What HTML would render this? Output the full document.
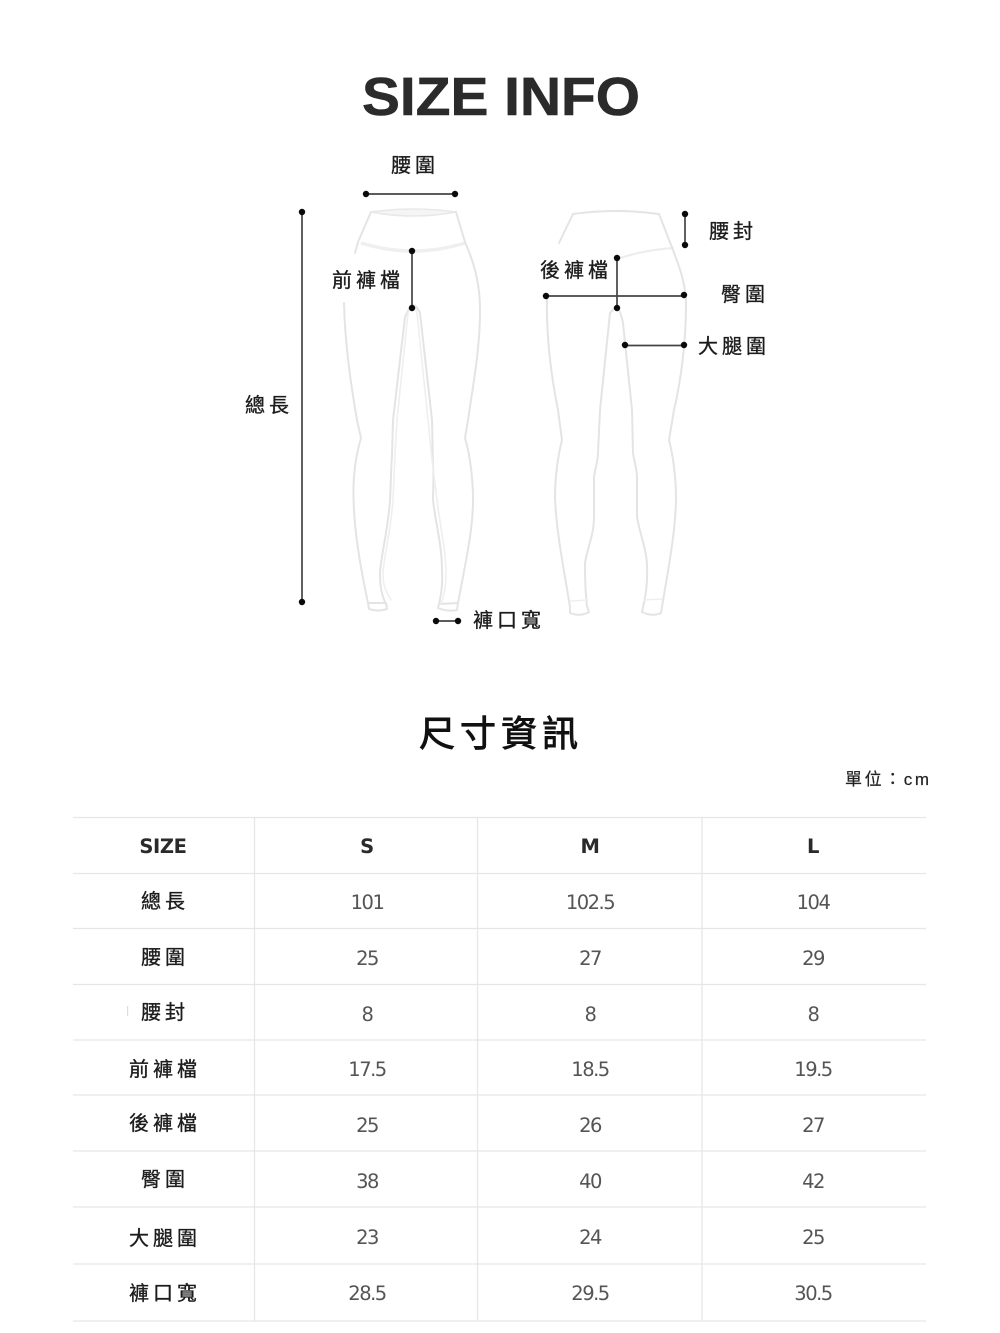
<!DOCTYPE html>
<html><head><meta charset="utf-8"><style>
html,body{margin:0;padding:0;background:#fff}
svg{display:block}
.c{font-family:"Liberation Sans","Noto Sans CJK TC",sans-serif;fill:#1c1c1c;stroke:#1c1c1c;stroke-width:.35;font-size:20px;letter-spacing:4px}
.n{font-family:"DejaVu Sans","Liberation Sans",sans-serif;fill:#555;font-size:19.5px;text-anchor:middle;letter-spacing:-1.5px}
.h{font-family:"DejaVu Sans","Liberation Sans",sans-serif;fill:#2a2a2a;font-size:19.5px;font-weight:bold;text-anchor:middle;letter-spacing:-.4px}
.o{fill:none;stroke:#e4e4e4;stroke-width:2;stroke-linecap:round;stroke-linejoin:round}
.f{fill:none;stroke:#efefef;stroke-width:1.6;stroke-linecap:round}
.l{stroke:#444;stroke-width:1.7;fill:none}
.g{stroke:#e6e6e6;stroke-width:1.3}
</style></head><body>
<svg width="1000" height="1333" viewBox="0 0 1000 1333" xmlns="http://www.w3.org/2000/svg">
<text x="362" y="115" font-family="Liberation Sans,sans-serif" font-weight="bold" font-size="54" fill="#2b2b2b" stroke="#2b2b2b" stroke-width=".6" textLength="278" lengthAdjust="spacingAndGlyphs">SIZE INFO</text>

<!-- front leggings -->
<path d="M371 212Q413 206 456 212Q414 220 371 212Z" fill="#f5f5f5" stroke="#e8e8e8" stroke-width="1.6"/>
<path d="M361 243Q413 259 465 243" fill="none" stroke="#efefef" stroke-width="3.5"/>
<g class="o">
<path d="M371 212L358 242L355 253"/>
<path d="M456 212L465 242C475 265 480 285 480 310C480 350 473 385 468 420L465 438C470 455 473 478 473 500C473 530 466 560 458 603"/>
<path d="M344 303C345 345 351 385 357 420L361 438C356 455 353 475 353.500 497C354 530 360 565 368 603"/>
<path d="M368 603L369 609Q378 612 387 609L386 603L368 603"/>
<path d="M438 608Q448 612 457 610L458 603L440 604"/>
<path d="M387 606C381 595 380 585 380 572C382 550 388 530 390 500C391 480 391 470 392 455L393 420L405 317Q410 306 413 305Q417 306 420 313L432 420L433 465C434 480 433 490 433 500C435 520 442 545 442 570C443 585 441 597 438 608"/>
</g>
<g class="f">
<path d="M391 600C385 590 383 585 383 572C385 550 391 530 393 500L395 455L397 420L408 313Q412 305 413 305Q415 306 417 313L428 420L432 460L437 500C440 525 446 550 446 575Q446 590 441 604"/>
</g>

<!-- back leggings -->
<g class="o">
<path d="M573 214Q616 208 659 214"/>
<path d="M573 214L559 243"/>
<path d="M620 258Q645 250 673 248" stroke="#ececec"/>
<path d="M659 214L673 250C680 268 686 285 686 305C686 345 680 385 674 410L669 440C673 455 676 478 676 497C676 530 668 570 662 607L661 613"/>
<path d="M547 297C546 340 552 380 558 410L562 440C558 455 555 478 555 497C556 530 564 570 570 607L570 613Q580 617 589 612L587 606"/>
<path d="M642 612Q652 617 661 613"/>
<path d="M587 606C585 590 585 575 585 563C588 545 594 535 594 517L594 477C596 465 598 460 598 453L600 410L610 313Q614 308 617 308Q620 309 623 323L632 410L633 453C635 465 637 470 637 477L637 517C640 535 647 550 647 567C648 585 645 600 642 612"/>
</g>
<path d="M571 601L588 600M644 600L662 599" class="f"/>

<!-- dimension lines -->
<g class="l">
<path d="M366 194H455"/><path d="M302 212V602"/><path d="M412 251V308"/>
<path d="M685 214V245"/><path d="M617 258V308"/><path d="M546 296H684"/>
<path d="M625 345.500H684"/><path d="M436 621H458"/>
</g>
<g fill="#0a0a0a">
<circle cx="366" cy="194" r="3.200"/><circle cx="455" cy="194" r="3.200"/>
<circle cx="302" cy="212" r="3.200"/><circle cx="302" cy="602" r="3.200"/>
<circle cx="412" cy="251" r="3.200"/><circle cx="412" cy="308" r="3.200"/>
<circle cx="685" cy="214" r="3.200"/><circle cx="685" cy="245" r="3.200"/>
<circle cx="617" cy="258" r="3.200"/><circle cx="617" cy="308" r="3.200"/>
<circle cx="546" cy="296" r="3.200"/><circle cx="684" cy="295" r="3.200"/>
<circle cx="625" cy="345" r="3.200"/><circle cx="684" cy="345" r="3.200"/>
<circle cx="436" cy="621" r="3.200"/><circle cx="458" cy="621" r="3.200"/>
</g>

<g class="c">
<text x="391" y="172">腰圍</text>
<text x="332" y="287">前褲檔</text>
<text x="245" y="412">總長</text>
<text x="540" y="277">後褲檔</text>
<text x="709" y="238">腰封</text>
<text x="721" y="301">臀圍</text>
<text x="698" y="353">大腿圍</text>
<text x="473" y="627">褲口寬</text>
</g>

<text x="419" y="746" font-family="Liberation Sans,Noto Sans CJK TC,sans-serif" font-size="36" fill="#111" stroke="#111" stroke-width=".9" letter-spacing="5">尺寸資訊</text>
<text x="845" y="785" font-family="Liberation Sans,Noto Sans CJK TC,sans-serif" font-size="17" fill="#222" stroke="#222" stroke-width=".2" letter-spacing="2.600">單位：cm</text>

<!-- table grid -->
<g class="g">
<path d="M73 817.5H926M73 873.5H926M73 928.5H926M73 984.5H926M73 1040H926M73 1095H926M73 1151H926M73 1207H926M73 1264H926M73 1321H926"/>
<path d="M254.5 817V1321M477.5 817V1321M702 817V1321"/>
</g>
<rect x="127" y="1006" width="1.2" height="10" fill="#ddd"/>

<text class="h" x="163" y="853">SIZE</text>
<text class="h" x="367" y="853">S</text><text class="h" x="590" y="853">M</text><text class="h" x="813" y="853">L</text>

<g class="c" text-anchor="middle">
<text x="165" y="908">總長</text>
<text x="165" y="964">腰圍</text>
<text x="165" y="1019">腰封</text>
<text x="165" y="1076">前褲檔</text>
<text x="165" y="1130">後褲檔</text>
<text x="165" y="1186">臀圍</text>
<text x="165" y="1245">大腿圍</text>
<text x="165" y="1300">褲口寬</text>
</g>

<g class="n">
<text x="367" y="909">101</text><text x="590" y="909">102.5</text><text x="813" y="909">104</text>
<text x="367" y="965">25</text><text x="590" y="965">27</text><text x="813" y="965">29</text>
<text x="367" y="1021">8</text><text x="590" y="1021">8</text><text x="813" y="1021">8</text>
<text x="367" y="1076">17.5</text><text x="590" y="1076">18.5</text><text x="813" y="1076">19.5</text>
<text x="367" y="1132">25</text><text x="590" y="1132">26</text><text x="813" y="1132">27</text>
<text x="367" y="1188">38</text><text x="590" y="1188">40</text><text x="813" y="1188">42</text>
<text x="367" y="1244">23</text><text x="590" y="1244">24</text><text x="813" y="1244">25</text>
<text x="367" y="1300">28.5</text><text x="590" y="1300">29.5</text><text x="813" y="1300">30.5</text>
</g>
</svg>
</body></html>
